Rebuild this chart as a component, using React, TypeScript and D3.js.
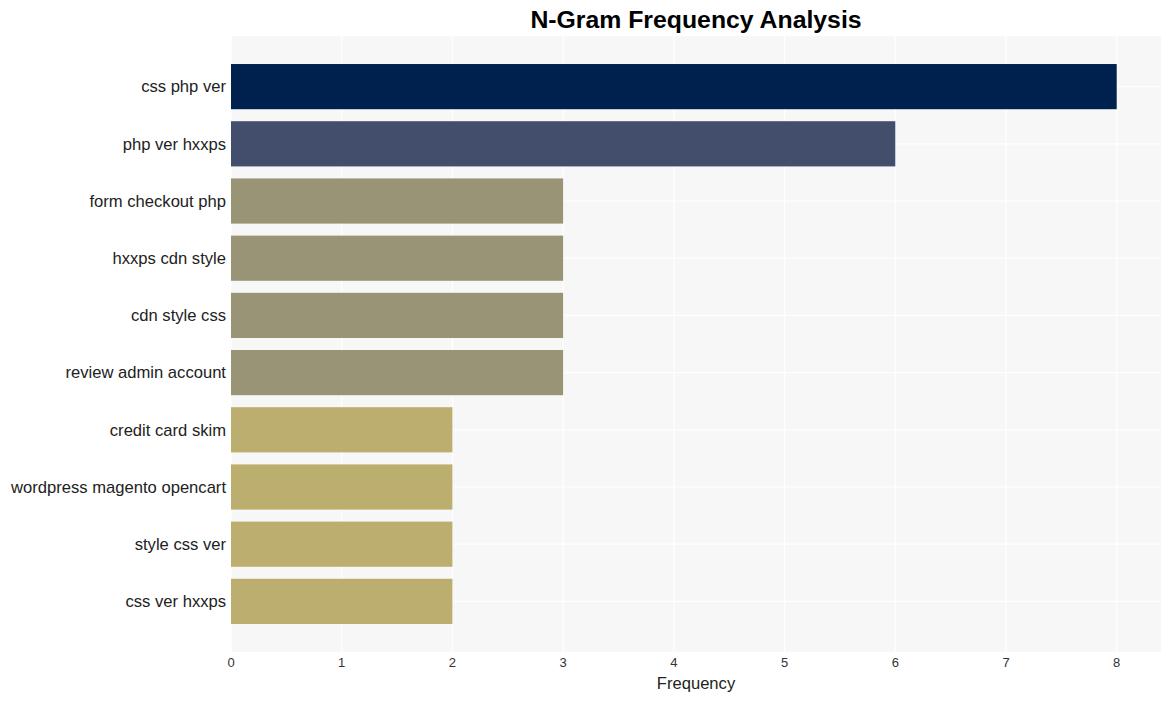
import React from "react";
import * as d3 from "d3";

const categories = [
  "css php ver",
  "php ver hxxps",
  "form checkout php",
  "hxxps cdn style",
  "cdn style css",
  "review admin account",
  "credit card skim",
  "wordpress magento opencart",
  "style css ver",
  "css ver hxxps",
];
const values = [8, 6, 3, 3, 3, 3, 2, 2, 2, 2];
const colors = ["#00214e", "#424e6b", "#9a9476", "#9a9476", "#9a9476", "#9a9476", "#bcae6e", "#bcae6e", "#bcae6e", "#bcae6e"];
const xTicks = [0, 1, 2, 3, 4, 5, 6, 7, 8];

export default function App() {
  const W = 1170, H = 701;
  const left = 231, right = 1161, top = 36, bottom = 652;
  const x = d3.scaleLinear().domain([0, 8.4]).range([left, right]);
  const y = d3.scaleBand<string>().domain(categories).range([top, bottom]).paddingInner(0.21).paddingOuter(0.49);
  const font = "'Liberation Sans', Arial, Helvetica, sans-serif";
  return (
    <svg width={W} height={H} style={{ position: "absolute", left: 0, top: 0 }} fontFamily={font}>
      <rect x={0} y={0} width={W} height={H} fill="#ffffff" />
      <rect x={left} y={top} width={right - left} height={bottom - top} fill="#f7f7f7" />
      {xTicks.map((t) => (
        <line key={"v" + t} x1={x(t)} x2={x(t)} y1={top} y2={bottom} stroke="#ffffff" strokeWidth={1.2} />
      ))}
      {categories.map((c) => (
        <line key={"h" + c} x1={left} x2={right} y1={y(c)! + y.bandwidth() / 2} y2={y(c)! + y.bandwidth() / 2} stroke="#ffffff" strokeWidth={1.2} />
      ))}
      {categories.map((c, i) => (
        <rect key={"b" + c} x={x(0)} y={y(c)!} width={x(values[i]) - x(0)} height={y.bandwidth()} fill={colors[i]} />
      ))}
      {categories.map((c) => (
        <text key={"l" + c} x={left - 5} y={y(c)! + y.bandwidth() / 2} dy="0.35em" textAnchor="end" fontSize={16.6} fill="#222">
          {c}
        </text>
      ))}
      {xTicks.map((t) => (
        <text key={"t" + t} x={x(t)} y={667} textAnchor="middle" fontSize={13} fill="#333">
          {t}
        </text>
      ))}
      <text x={(left + right) / 2} y={689} textAnchor="middle" fontSize={16.6} fill="#222">Frequency</text>
      <text x={(left + right) / 2} y={28} textAnchor="middle" fontSize={24.8} fontWeight="bold" fill="#000">N-Gram Frequency Analysis</text>
    </svg>
  );
}
